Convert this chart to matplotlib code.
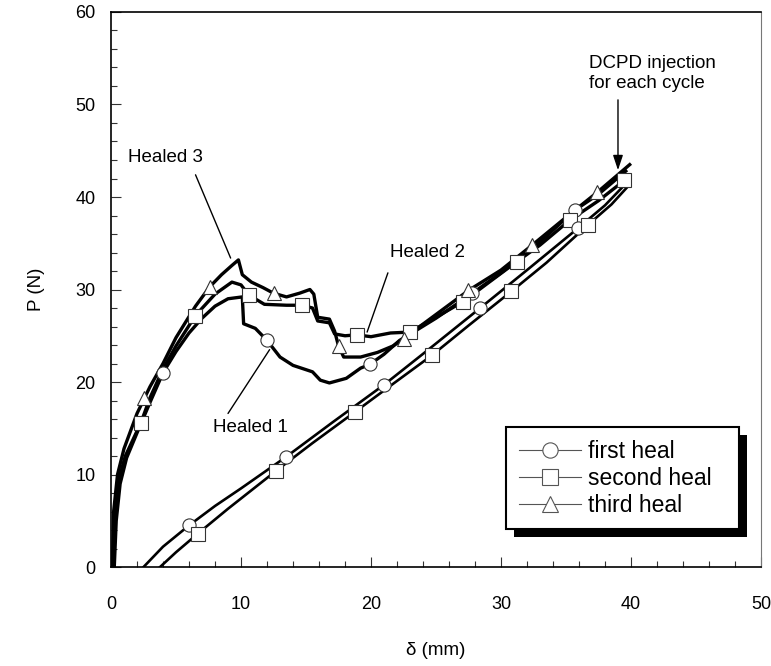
import numpy as np
import matplotlib
matplotlib.use('Agg')
import matplotlib.pyplot as plt
from matplotlib.lines import Line2D
from matplotlib.patches import Rectangle
from matplotlib.transforms import IdentityTransform
from matplotlib.ticker import MultipleLocator

plt.rcParams['font.family'] = ['Liberation Sans', 'DejaVu Sans']

# load-displacement traces of the three healing cycles (delta in mm, P in N)
heal1_d = [0.25, 0.4, 0.7, 1.2, 2.0, 3.0, 4.0, 5.0, 6.0, 7.0, 8.0, 9.0, 10.1, 10.2, 11.1, 12.0,
           13.0, 14.0, 15.5, 16.1, 16.8, 18.1, 19.2, 19.9, 21.0, 22.2, 23.5, 25.0, 27.5, 30.0,
           32.5, 35.7, 37.5, 39.6]
heal1_p = [0.0, 5.0, 9.0, 11.8, 14.5, 17.8, 21.0, 23.3, 25.3, 26.9, 28.2, 29.0, 29.2, 26.3, 25.8, 24.5,
           22.7, 21.8, 21.1, 20.2, 19.9, 20.4, 21.5, 21.9, 23.0, 24.5, 25.6, 26.9, 29.3, 31.8,
           34.5, 38.6, 40.3, 42.8]

heal2_d = [0.15, 0.3, 0.6, 1.1, 2.3, 3.0, 4.0, 5.0, 6.5, 8.0, 9.3, 10.0, 10.6, 11.8, 13.5, 14.7,
           15.5, 15.9, 16.8, 17.2, 18.0, 18.9, 20.0, 21.5, 23.0, 25.0, 27.1, 29.0, 31.2, 33.0,
           35.3, 37.5, 39.5, 39.9]
heal2_p = [0.0, 5.5, 9.5, 12.0, 15.6, 18.3, 21.4, 23.9, 27.2, 29.5, 30.8, 30.5, 29.4, 28.4, 28.3, 28.3,
           28.0, 26.6, 26.4, 25.2, 25.0, 25.1, 24.9, 25.3, 25.4, 27.0, 28.7, 30.7, 33.0, 34.8,
           37.5, 39.6, 41.8, 42.3]

heal3_d = [0.1, 0.2, 0.5, 1.0, 2.0, 3.0, 4.0, 5.0, 6.5, 7.6, 8.5, 9.3, 9.8, 10.1, 10.8, 11.7,
           12.5, 13.5, 14.5, 15.3, 15.6, 15.9, 16.8, 17.2, 17.5, 17.9, 19.2, 20.5, 21.7, 22.5,
           25.0, 27.5, 30.0, 32.4, 35.0, 37.4, 39.9]
heal3_p = [0.0, 6.0, 10.0, 12.8, 16.6, 19.5, 22.0, 24.8, 28.2, 30.3, 31.6, 32.6, 33.2, 31.6, 30.8, 30.2,
           29.6, 29.2, 29.6, 30.0, 29.5, 27.0, 26.8, 25.5, 23.9, 22.7, 22.7, 23.2, 23.9, 24.7,
           27.3, 29.9, 32.1, 34.8, 37.8, 40.5, 43.5]

# lower traces that start off the origin
ref1_d = [2.5, 4.0, 6.0, 8.0, 10.0, 13.46, 17.0, 21.0, 24.5, 28.4, 32.0, 35.9, 38.0, 39.3]
ref1_p = [0.0, 2.2, 4.5, 6.6, 8.5, 11.9, 15.6, 19.7, 23.6, 28.0, 32.1, 36.6, 39.1, 41.0]
ref2_d = [3.77, 5.0, 6.67, 9.0, 12.7, 15.5, 18.8, 21.5, 24.7, 27.5, 30.8, 33.5, 36.7, 38.5, 39.8]
ref2_p = [0.0, 1.6, 3.6, 6.3, 10.4, 13.4, 16.8, 19.6, 22.9, 26.1, 29.8, 32.9, 37.0, 39.2, 41.2]

# displacements where the open symbols sit
heal1_mark = [4.0, 12.0, 19.9, 27.8, 35.7]
heal2_mark = [2.3, 6.46, 10.6, 14.7, 18.9, 23.0, 27.1, 31.2, 35.3, 39.5]
heal3_mark = [2.56, 7.6, 12.5, 17.5, 22.5, 27.5, 32.4, 37.4]
ref1_mark = [6.0, 13.46, 21.0, 28.4, 35.9]
ref2_mark = [6.67, 12.7, 18.8, 24.7, 30.8, 36.7]

labels = ['first heal', 'second heal', 'third heal']
symbols = ['o', 's', '^']

fig = plt.figure(figsize=(7.71, 6.66), dpi=100)
ax = fig.add_axes([0.144, 0.1486, 0.843, 0.8334])

traces = [
    (heal1_d, heal1_p, heal1_mark, 'o', 2.4),
    (heal2_d, heal2_p, heal2_mark, 's', 2.4),
    (heal3_d, heal3_p, heal3_mark, '^', 2.4),
    (ref1_d, ref1_p, ref1_mark, 'o', 1.9),
    (ref2_d, ref2_p, ref2_mark, 's', 1.9),
]
for d, p, marks, sym, lw in traces:
    ax.plot(d, p, color='black', lw=lw, solid_joinstyle='round', zorder=2)
    mp = np.interp(marks, d, p)
    ms = 10 if sym == '^' else 9.5
    ax.plot(marks, mp, ls='none', marker=sym, ms=ms, mfc='white', mec='#333333',
            mew=0.8, zorder=3)

# labels with leader lines
fs = 13.5
ax.text(1.31, 44.3, 'Healed 3', fontsize=fs, va='center', ha='left')
ax.annotate('', xy=(9.2, 33.4), xytext=(6.5, 42.4),
            arrowprops=dict(arrowstyle='-', lw=1, color='black', shrinkA=0, shrinkB=0))
ax.text(21.46, 34.05, 'Healed 2', fontsize=fs, va='center', ha='left')
ax.annotate('', xy=(19.7, 25.4), xytext=(21.3, 31.8),
            arrowprops=dict(arrowstyle='-', lw=1, color='black', shrinkA=0, shrinkB=0))
ax.text(7.85, 15.1, 'Healed 1', fontsize=fs, va='center', ha='left')
ax.annotate('', xy=(12.2, 23.5), xytext=(9.0, 16.6),
            arrowprops=dict(arrowstyle='-', lw=1, color='black', shrinkA=0, shrinkB=0))
ax.text(36.77, 55.4, 'DCPD injection\nfor each cycle', fontsize=fs, va='top', ha='left',
        linespacing=1.25)
ax.annotate('', xy=(39.0, 42.9), xytext=(39.0, 50.5),
            arrowprops=dict(arrowstyle='-|>,head_length=0.9,head_width=0.3', lw=1,
                            color='black', shrinkA=0, shrinkB=0))

ax.set_xlim(0, 50)
ax.set_ylim(0, 60)
ax.xaxis.set_major_locator(MultipleLocator(10))
ax.xaxis.set_minor_locator(MultipleLocator(2))
ax.yaxis.set_major_locator(MultipleLocator(10))
ax.yaxis.set_minor_locator(MultipleLocator(2))
ax.tick_params(which='both', direction='in', labelsize=13, width=0.8, color='#333333')
ax.tick_params(which='major', length=7)
ax.tick_params(which='minor', length=4)
ax.tick_params(axis='x', pad=21)
ax.tick_params(axis='y', pad=11)
ax.set_xlabel('δ (mm)', fontsize=13.5, labelpad=21)
ax.set_ylabel('P (N)', fontsize=13.5, labelpad=22)
for side in ['left', 'bottom', 'top']:
    ax.spines[side].set_linewidth(1.2)
ax.spines['right'].set_linewidth(0.8)
ax.spines['right'].set_color('#777777')

handles = [Line2D([], [], color='#555555', lw=0.8, marker=s, ms=11, mfc='white',
                  mec='#555555', mew=0.8) for s in symbols]
leg = ax.legend(handles, labels, loc='upper left', mode='expand',
                bbox_to_anchor=(0.608, 0.0757, 0.358, 0.176),
                fontsize=16.5, frameon=True, fancybox=False, handlelength=2.7,
                handletextpad=0.3, labelspacing=0.17, borderpad=0.55, borderaxespad=0)
leg.get_frame().set_edgecolor('black')
leg.get_frame().set_linewidth(1.5)
leg.get_frame().set_alpha(1)

# solid drop shadow under the legend box
fig.canvas.draw()
bb = leg.get_frame().get_window_extent()
ax.add_artist(Rectangle((bb.x0 + 8, bb.y0 - 8), bb.width, bb.height,
                        transform=IdentityTransform(), facecolor='black',
                        edgecolor='none', zorder=leg.get_zorder() - 0.1, clip_on=False))

fig.savefig('out.png', dpi=100)
